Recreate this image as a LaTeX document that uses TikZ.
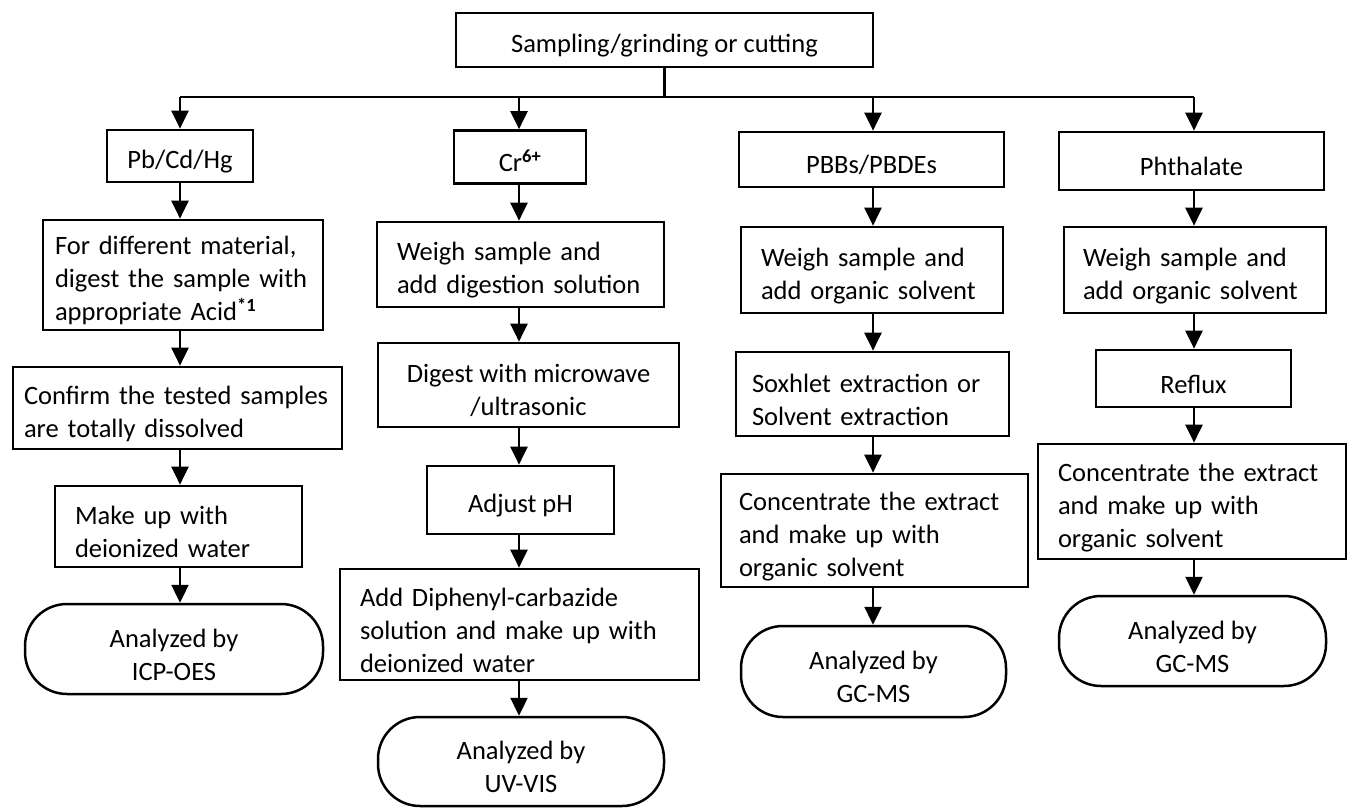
\documentclass[tikz,border=0pt]{standalone}
\usepackage{fontspec}
\setmainfont{Carlito}
\usetikzlibrary{arrows.meta}
\newcommand\boxfont{\fontsize{26.5pt}{33pt}\selectfont}
\newcommand\upstrut{\rule{0pt}{30pt}}
\begin{document}
\begin{tikzpicture}[x=1pt,y=-1pt,
  box/.style={draw, line width=2.7pt, font=\boxfont, inner ysep=0pt},
  cbox/.style={box, align=center, inner xsep=0pt},
  lbox/.style={box, align=left},
  term/.style={draw, line width=2.5pt, rounded corners=42pt, font=\boxfont, align=center, inner sep=0pt},
  arr/.style={line width=2.4pt, -{Triangle[width=17pt,length=18pt]}},
  link/.style={line width=2.4pt}]
\fill[white] (0,0) rectangle (1352,808);
\useasboundingbox (0,0) rectangle (1352,808);

% top
\node[cbox, minimum width=417pt, minimum height=54pt] (top) at (664.5,40) {\upstrut Sampling/grinding or cutting};

% row 1
\node[cbox, minimum width=146pt, minimum height=52pt] (pb) at (180,156) {\upstrut Pb/Cd/Hg};
\node[cbox, minimum width=132pt, minimum height=53pt] (cr) at (520,157) {\upstrut Cr\textsuperscript{\bfseries 6+}};
\node[cbox, minimum width=265pt, minimum height=55pt] (pbb) at (871.5,159.5) {\upstrut PBBs/PBDEs};
\node[cbox, minimum width=265pt, minimum height=58pt] (ph) at (1191.5,161) {\upstrut Phthalate};

% row 2
\node[lbox, text width=256pt, inner xsep=12pt, minimum height=110pt] (acid) at (183,275) {\upstrut For different material,\\digest the sample with\\appropriate Acid\textsuperscript{\bfseries *1}};
\node[lbox, text width=247pt, inner xsep=20pt, minimum height=85pt] (wcr) at (520.5,264.5) {\upstrut Weigh sample and\\add digestion solution};
\node[lbox, text width=222pt, inner xsep=20pt, minimum height=86pt] (wpb) at (872,270) {\upstrut Weigh sample and\\add organic solvent};
\node[lbox, text width=224pt, inner xsep=19pt, minimum height=86pt] (wph) at (1195,270) {\upstrut Weigh sample and\\add organic solvent};

% row 3
\node[lbox, text width=307pt, inner xsep=11pt, minimum height=82pt] (conf) at (177.5,408) {\upstrut Confirm the tested samples\\are totally dissolved};
\node[cbox, minimum width=301pt, minimum height=84pt] (dig) at (528.5,385) {\upstrut Digest with microwave\\/ultrasonic};
\node[lbox, text width=241pt, inner xsep=16pt, minimum height=84pt] (sox) at (872.5,394) {\upstrut Soxhlet extraction or\\Solvent extraction};
\node[cbox, minimum width=195pt, minimum height=57pt] (ref) at (1193.5,378.5) {\upstrut Reflux};

% row 4
\node[lbox, text width=207pt, inner xsep=20pt, minimum height=81pt] (mk) at (178.5,526.5) {\upstrut Make up with\\deionized water};
\node[cbox, minimum width=187pt, minimum height=68pt] (adj) at (520.5,500) {\upstrut Adjust pH};
\node[lbox, text width=271pt, inner xsep=18pt, minimum height=113pt] (c3) at (874.5,530.5) {\upstrut Concentrate the extract\\and make up with\\organic solvent};
\node[lbox, text width=268pt, inner xsep=20pt, minimum height=115pt] (c4) at (1192,501.5) {\upstrut Concentrate the extract\\and make up with\\organic solvent};

% row 5
\node[term, minimum width=298pt, minimum height=90pt] (icp) at (174,649) {\upstrut Analyzed by\\ICP-OES};
\node[lbox, text width=319pt, inner xsep=20pt, minimum height=111pt] (dip) at (519.5,624.5) {\upstrut Add Diphenyl-carbazide\\solution and make up with\\deionized water};
\node[term, minimum width=265pt, minimum height=91pt] (gc3) at (873.5,671.5) {\upstrut Analyzed by\\GC-MS};
\node[term, minimum width=267pt, minimum height=90pt] (gc4) at (1192.5,641) {\upstrut Analyzed by\\GC-MS};

% row 6
\node[term, minimum width=286pt, minimum height=89pt] (uv) at (521,761.5) {\upstrut Analyzed by\\UV-VIS};

% branching bar
\coordinate (b1) at (180,97);
\coordinate (b2) at (519,97);
\coordinate (b3) at (873,97);
\coordinate (b4) at (1194,97);
\draw[link] (top.south) -- (top.south |- b1);
\draw[link] (b1) -- (b4);
\draw[arr] (b1) -- (pb.north -| b1);
\draw[arr] (b2) -- (cr.north -| b2);
\draw[arr] (b3) -- (pbb.north -| b3);
\draw[arr] (b4) -- (ph.north -| b4);

% column 1
\draw[arr] (pb.south -| b1) -- (acid.north -| b1);
\draw[arr] (acid.south -| b1) -- (conf.north -| b1);
\draw[arr] (conf.south -| b1) -- (mk.north -| b1);
\draw[arr] (mk.south -| b1) -- (icp.north -| b1);

% column 2
\draw[arr] (cr.south -| b2) -- (wcr.north -| b2);
\draw[arr] (wcr.south -| b2) -- (dig.north -| b2);
\draw[arr] (dig.south -| b2) -- (adj.north -| b2);
\draw[arr] (adj.south -| b2) -- (dip.north -| b2);
\draw[arr] (dip.south -| b2) -- (uv.north -| b2);

% column 3
\draw[arr] (pbb.south -| b3) -- (wpb.north -| b3);
\draw[arr] (wpb.south -| b3) -- (sox.north -| b3);
\draw[arr] (sox.south -| b3) -- (c3.north -| b3);
\draw[arr] (c3.south -| b3) -- (gc3.north -| b3);

% column 4
\draw[arr] (ph.south -| b4) -- (wph.north -| b4);
\draw[arr] (wph.south -| b4) -- (ref.north -| b4);
\draw[arr] (ref.south -| b4) -- (c4.north -| b4);
\draw[arr] (c4.south -| b4) -- (gc4.north -| b4);
\end{tikzpicture}
\end{document}
